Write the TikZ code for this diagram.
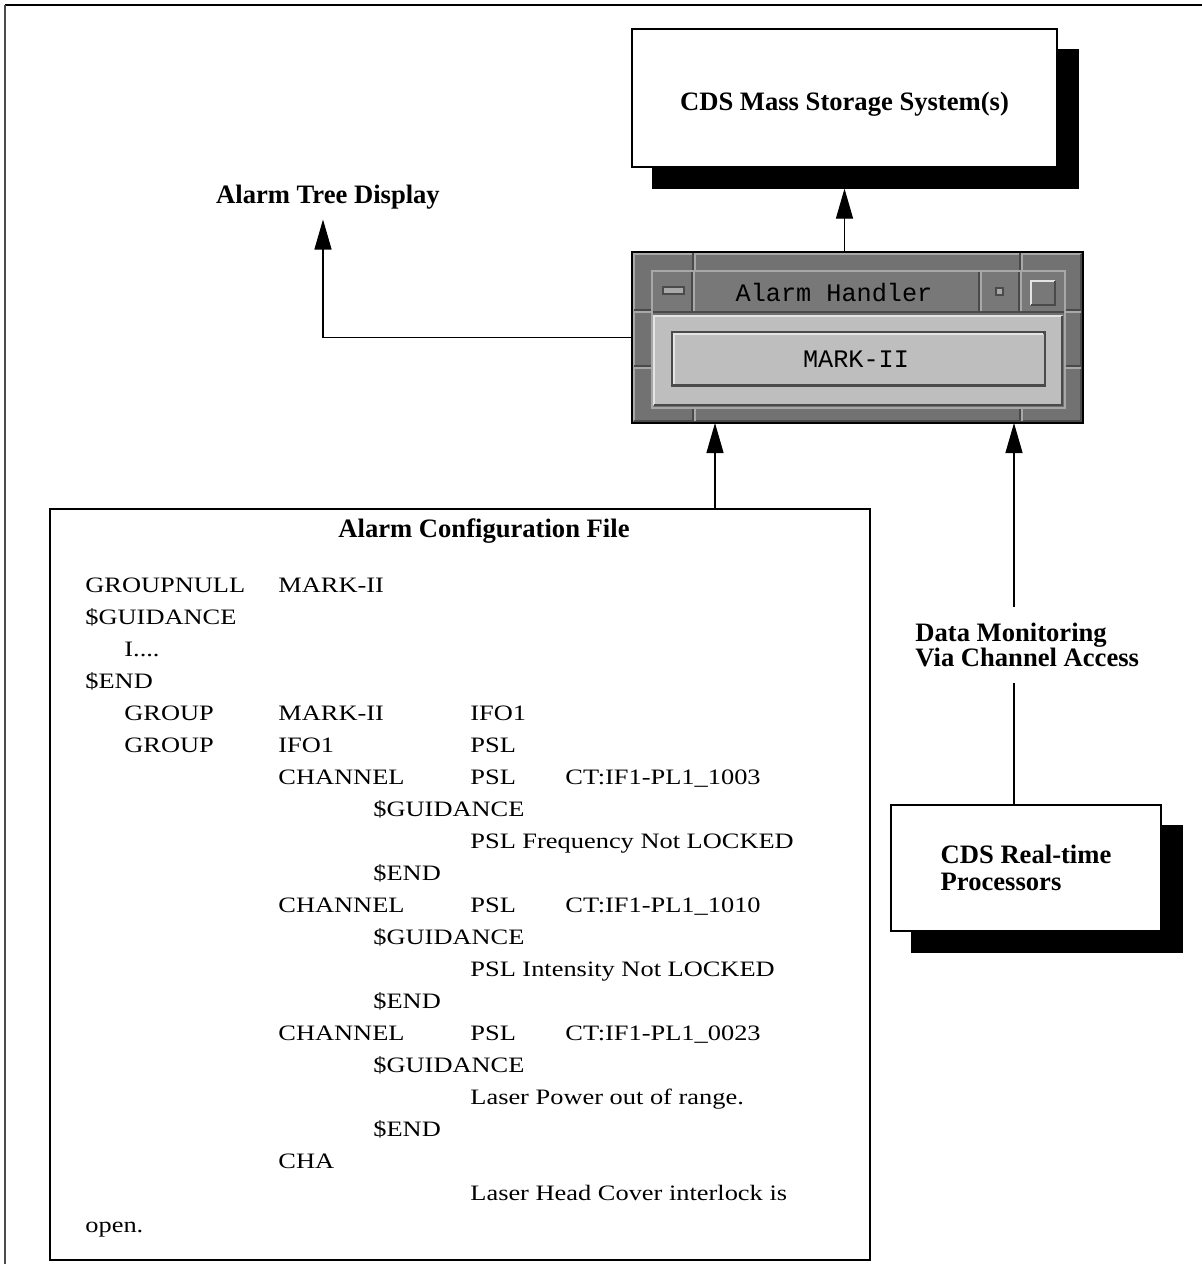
\documentclass[tikz,border=0pt]{standalone}
\usepackage{fontspec}
\setmainfont{Liberation Serif}
\newfontfamily\cfgfont[FakeStretch=1.2]{Liberation Serif}
\newfontfamily\guifont{Liberation Mono}
\usetikzlibrary{arrows.meta,positioning,shadows,calc}
\definecolor{guiframe}{HTML}{727272}
\definecolor{guibar}{HTML}{787878}
\definecolor{guiface}{HTML}{BEBEBE}
\definecolor{guihi}{HTML}{E4E4E4}
\definecolor{guimid}{HTML}{A8A8A8}
\definecolor{guilo}{HTML}{4A4A4A}
\tikzset{
  shbox/.style={draw, fill=white, line width=0.6pt, align=left, font=\bfseries\fontsize{13.3}{13.5}\selectfont,
    copy shadow={shadow xshift=10.5pt, shadow yshift=-10.5pt, fill=black, draw=black}},
  lbl/.style={align=left, inner sep=5pt, font=\bfseries\fontsize{13.3}{12.5}\selectfont},
  cfgline/.style={anchor=base west, inner sep=0pt, font=\cfgfont\fontsize{11}{13}\selectfont},
  guiwin/.style={draw=black, fill=guiframe, line width=0.8pt, outer sep=0pt},
  guitxt/.style={inner sep=0pt, font=\guifont\fontsize{12.6}{13}\selectfont},
  arr/.style={-{Triangle[length=15pt,width=8.5pt]}, line width=0.6pt},
}
\newcommand{\gdots}{I....}

\begin{document}
\begin{tikzpicture}[x=0.5pt, y=-0.5pt]
  \useasboundingbox (0,0) rectangle (1202,1264);
  \fill[white] (0,0) rectangle (1202,1264);
  % page frame
  \draw[line width=1pt] (5,5) -- (1202,5);
  \draw[line width=1pt, black!70] (5,5) -- (5,1264);

  \node[shbox, align=center, text height=12pt, text depth=0pt, minimum width=212.5pt, minimum height=69pt] (mss) at (844.5,98) {CDS Mass Storage System(s)};
  \node[lbl] (atd) at (328,197) {Alarm Tree Display};

  % alarm handler window
  \node[guiwin, minimum width=225.5pt, minimum height=85.5pt] (ah) at (857.5,337.5) {};
  \draw[guimid, line width=1pt] (633,254) -- (1081,254) (634,253) -- (634,421);
  \draw[guilo, line width=1pt] (634,421) -- (1081,421) -- (1081,254);
  \draw[guimid, line width=1pt] (695,253) -- (695,271) (1022,253) -- (1022,271)
    (695,407) -- (695,421) (1022,407) -- (1022,421)
    (634,312) -- (651,312) (634,368) -- (651,368)
    (1065,312) -- (1081,312) (1065,368) -- (1081,368);
  \draw[guilo, line width=1pt] (693,253) -- (693,271) (1020,253) -- (1020,271)
    (693,407) -- (693,421) (1020,407) -- (1020,421)
    (634,310) -- (651,310) (634,366) -- (651,366)
    (1065,310) -- (1081,310) (1065,366) -- (1081,366);
  \draw[guimid, line width=1pt] (652,408) -- (652,271) -- (1065,271) -- (1065,408) -- cycle;
  % title bar
  \fill[guibar] (653,272) rectangle (1064,313);
  \draw[guimid, line width=1pt] (694,272) -- (694,312) (981,272) -- (981,312) (1021,272) -- (1021,312);
  \draw[guilo, line width=1pt] (692,272) -- (692,312) (979,272) -- (979,312) (1019,272) -- (1019,312)
    (653,312) -- (1064,312);
  \draw[guilo, fill=guimid, line width=0.6pt] (663,287) rectangle (684,294);
  \draw[guilo, fill=guimid, line width=0.6pt] (996,288) rectangle (1003,295);
  \draw[guihi, line width=1pt] (1031,305) -- (1031,281) -- (1055,281);
  \draw[guilo, line width=1pt] (1031,305) -- (1055,305) -- (1055,281);
  \node[guitxt] (ahtitle) at (834,293) {Alarm Handler};
  % main area and button
  \fill[guiface] (653,315) rectangle (1063,406);
  \draw[guihi, line width=1pt] (654,405) -- (654,316) -- (1062,316);
  \draw[guilo, line width=1pt] (654,405) -- (1062,405) -- (1062,316);
  \node[draw=guilo, fill=guiface, line width=1.2pt, minimum width=186.5pt, minimum height=26.5pt] (ahbtn) at (858.5,359) {};
  \draw[guihi, line width=1.2pt] (674,384) -- (674,334) -- (1043,334);
  \node[guitxt] (ahbtntxt) at (856,359) {MARK-II};

  % configuration file
  \node[draw, line width=0.6pt, minimum width=410pt, minimum height=375.5pt] (cfg) at (460,884.5) {};
  \node[lbl] (cfgtitle) at (484,531) {Alarm Configuration File};
  \foreach \x/\r/\t in {85/0/GROUPNULL, 278/0/MARK-II, 85/1/\$GUIDANCE, 124/2/\gdots, 85/3/\$END,
      124/4/GROUP, 278/4/MARK-II, 470/4/IFO1, 124/5/GROUP, 278/5/IFO1, 470/5/PSL,
      278/6/CHANNEL, 470/6/PSL, 565/6/CT:IF1-PL1\_1003, 373/7/\$GUIDANCE,
      470/8/PSL Frequency Not LOCKED, 373/9/\$END,
      278/10/CHANNEL, 470/10/PSL, 565/10/CT:IF1-PL1\_1010, 373/11/\$GUIDANCE,
      470/12/PSL Intensity Not LOCKED, 373/13/\$END,
      278/14/CHANNEL, 470/14/PSL, 565/14/CT:IF1-PL1\_0023, 373/15/\$GUIDANCE,
      470/16/Laser Power out of range., 373/17/\$END,
      278/18/CHA, 470/19/Laser Head Cover interlock is, 85/20/open.}
    \node[cfgline] (cfg-\r-\x) at (\x,592+32*\r) {\t};

  % real-time side
  \node[shbox, minimum width=135pt, minimum height=63pt] (rtp) at (1026,868) {CDS Real-time\\Processors};
  \node[lbl, inner sep=8pt, anchor=west] (dm) at (899,645) {Data Monitoring\\Via Channel Access};

  \coordinate (in1) at (715,423);
  \coordinate (in2) at (1014,423);
  \draw[arr] (mss.south |- ah.north) -- ([yshift=-10.5pt]mss.south);
  \draw[arr] (ah.west) -| ([xshift=-2.5pt]atd.south);
  \draw[arr] (cfg.north -| in1) -- (in1);
  \draw[arr] (dm.north -| in2) -- (in2);
  \draw[line width=0.6pt] (rtp.north -| in2) -- (dm.south -| in2);
\end{tikzpicture}
\end{document}
